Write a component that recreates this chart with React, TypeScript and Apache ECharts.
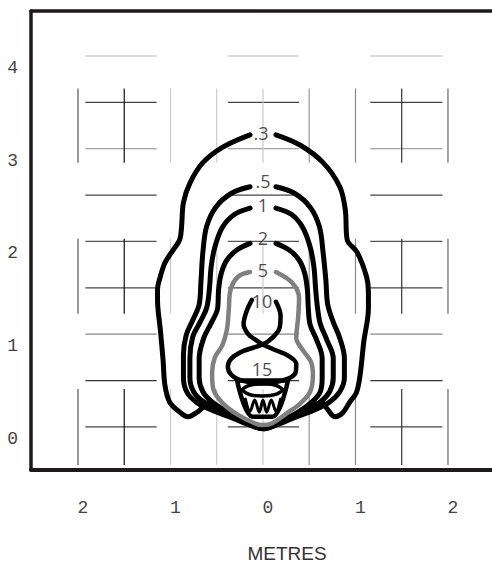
import React, { useEffect, useRef } from "react";
import * as echarts from "echarts";

// ---- tick labels ----
const xTickValues = [-2, -1, 0, 1, 2];
const yTickValues = [0, 1, 2, 3, 4];

// ---- isolux contours (metres) ----
const contour03 = [
  [-0.14, 3.15], [-0.43, 3.02], [-0.65, 2.85], [-0.79, 2.63], [-0.86, 2.42], [-0.88, 2.16],
  [-0.9, 2.02], [-0.97, 1.91], [-1.06, 1.77], [-1.11, 1.62], [-1.14, 1.48], [-1.14, 1.37],
  [-1.11, 1.05], [-1.08, 0.72], [-1.06, 0.45], [-1.01, 0.27], [-0.9, 0.16], [-0.81, 0.11],
  [-0.71, 0.16], [-0.61, 0.23], [-0.44, 0.18], [-0.25, 0.09], [0, -0.02],
  [0.25, 0.08], [0.45, 0.18], [0.64, 0.26], [0.69, 0.2], [0.78, 0.11], [0.86, 0.15],
  [0.94, 0.27], [1.01, 0.37], [1.05, 0.56], [1.09, 0.92], [1.14, 1.28], [1.14, 1.45],
  [1.12, 1.62], [1.02, 1.88], [0.91, 2.02], [0.89, 2.34], [0.83, 2.59], [0.65, 2.85],
  [0.4, 3.04], [0.14, 3.15],
];
const contour05 = [
  [-0.14, 2.59], [-0.34, 2.52], [-0.51, 2.37], [-0.61, 2.16], [-0.65, 1.88], [-0.67, 1.58],
  [-0.69, 1.32], [-0.76, 1.15], [-0.83, 0.99], [-0.86, 0.78], [-0.86, 0.53], [-0.82, 0.37],
  [-0.71, 0.26], [-0.55, 0.18], [-0.34, 0.1], [-0.14, 0.02], [0, -0.02],
  [0.14, 0.02], [0.34, 0.1], [0.55, 0.18], [0.72, 0.27], [0.83, 0.38], [0.88, 0.53],
  [0.88, 0.74], [0.83, 0.96], [0.76, 1.13], [0.7, 1.32], [0.68, 1.58], [0.65, 1.88],
  [0.61, 2.16], [0.51, 2.37], [0.34, 2.52], [0.14, 2.59],
];
const contour1 = [
  [-0.14, 2.36], [-0.31, 2.29], [-0.44, 2.15], [-0.52, 1.94], [-0.56, 1.73], [-0.58, 1.48],
  [-0.61, 1.28], [-0.68, 1.13], [-0.76, 0.97], [-0.79, 0.74], [-0.79, 0.53], [-0.75, 0.38],
  [-0.64, 0.27], [-0.46, 0.18], [-0.25, 0.09], [0, -0.01],
  [0.25, 0.09], [0.46, 0.18], [0.62, 0.27], [0.72, 0.38], [0.76, 0.53], [0.76, 0.74],
  [0.69, 0.94], [0.62, 1.11], [0.59, 1.28], [0.57, 1.48], [0.55, 1.73], [0.51, 1.94],
  [0.43, 2.15], [0.31, 2.29], [0.14, 2.36],
];
const contour2 = [
  [-0.14, 1.98], [-0.28, 1.91], [-0.39, 1.8], [-0.45, 1.66], [-0.48, 1.48], [-0.49, 1.28],
  [-0.56, 1.12], [-0.64, 0.96], [-0.69, 0.74], [-0.69, 0.53], [-0.65, 0.38], [-0.55, 0.27],
  [-0.38, 0.16], [-0.18, 0.06], [0, -0.01],
  [0.18, 0.06], [0.38, 0.16], [0.53, 0.27], [0.62, 0.38], [0.64, 0.53], [0.64, 0.74],
  [0.58, 0.94], [0.51, 1.1], [0.49, 1.28], [0.48, 1.48], [0.45, 1.66], [0.39, 1.8],
  [0.28, 1.91], [0.14, 1.98],
];
const contour5 = [
  [-0.14, 1.67], [-0.27, 1.62], [-0.35, 1.48], [-0.37, 1.26], [-0.39, 1.05], [-0.44, 0.88],
  [-0.52, 0.75], [-0.55, 0.59], [-0.54, 0.42], [-0.44, 0.26], [-0.27, 0.13], [-0.09, 0.04],
  [0, 0.02], [0.1, 0.04], [0.26, 0.15], [0.4, 0.25], [0.51, 0.38], [0.54, 0.56], [0.52, 0.7],
  [0.43, 0.83], [0.36, 0.96], [0.38, 1.18], [0.39, 1.39], [0.32, 1.55], [0.14, 1.67],
];
const contour10 = [
  [-0.12, 1.37], [-0.18, 1.24], [-0.21, 1.11], [-0.16, 1.0], [-0.08, 0.94], [0, 0.89],
  [0.13, 0.83], [0.27, 0.77], [0.36, 0.68], [0.35, 0.58], [0.24, 0.51], [0, 0.47],
  [-0.23, 0.5], [-0.34, 0.56], [-0.38, 0.65], [-0.34, 0.74], [-0.21, 0.82], [0, 0.89],
  [0.1, 0.96], [0.18, 1.07], [0.19, 1.2], [0.14, 1.35],
];
const contour15Cup = [
  [-0.28, 0.5], [0.27, 0.5], [0.1, 0.11], [-0.11, 0.11], [-0.28, 0.5],
];
const contour15Ellipse = [
  [-0.23, 0.4], [-0.17, 0.44], [-0.09, 0.46], [0, 0.465], [0.09, 0.46], [0.16, 0.44],
  [0.21, 0.4], [0.16, 0.36], [0.08, 0.34], [-0.01, 0.335], [-0.1, 0.34], [-0.17, 0.36],
  [-0.23, 0.4],
];
const contourTeeth = [
  [-0.19, 0.3], [-0.14, 0.17], [-0.09, 0.29], [-0.04, 0.16], [0, 0.29], [0.04, 0.16],
  [0.09, 0.29], [0.14, 0.17], [0.19, 0.3],
];

const contourLabelNames = [".3", ".5", "1", "2", "5", "10", "15"];
const contourLabelX = [-0.02, 0, 0, 0, 0, -0.01, -0.01];
const contourLabelY = [3.17, 2.65, 2.39, 2.04, 1.69, 1.36, 0.63];

// ---- background layout grid (segments) ----
const rowY = [0, 0.5, 1, 1.5, 2, 2.5, 3, 3.5, 4];
const rowColors = ["#444", "#333", "#888", "#444", "#555", "#444", "#888", "#444", "#bbb"];
const rowXRanges = [[-1.92, -1.15], [-0.38, 0.39], [1.16, 1.94]];
const colX = [-2, -1.5, -1, -0.5, 0, 0.5, 1, 1.5, 2];
const colColors = ["#555", "#111", "#ccc", "#ccc", "#ccc", "#999", "#888", "#333", "#666"];
const colYRanges = [[2.85, 3.65], [1.22, 2.03], [-0.41, 0.41]];

const X_MIN = -2.508;
const X_MAX = 2.476;
const Y_MIN = -0.464;
const Y_MAX = 4.485;

export default function App() {
  const ref = useRef<HTMLDivElement>(null);

  useEffect(() => {
    document.body.style.margin = "0";
    if (!ref.current) return;
    const chart = echarts.init(ref.current, undefined, { renderer: "svg" });

    const segs: number[][] = [];
    const segColors: string[] = [];
    rowY.forEach((y, i) => {
      rowXRanges.forEach((r) => {
        segs.push([r[0], y, r[1], y]);
        segColors.push(rowColors[i]);
      });
    });
    colX.forEach((x, i) => {
      colYRanges.forEach((r) => {
        segs.push([x, r[0], x, r[1]]);
        segColors.push(colColors[i]);
      });
    });

    const contours = [
      { data: contour03, color: "#000", width: 5 },
      { data: contour05, color: "#000", width: 5 },
      { data: contour1, color: "#000", width: 5 },
      { data: contour2, color: "#000", width: 5 },
      { data: contour5, color: "#808080", width: 4.5 },
      { data: contour10, color: "#000", width: 4.5 },
      { data: contour15Cup, color: "#000", width: 4.5 },
      { data: contour15Ellipse, color: "#000", width: 3.5 },
      { data: contourTeeth, color: "#000", width: 3 },
    ];

    const tickFont = {
      fontFamily: "Liberation Mono",
      fontSize: 18,
      color: "#444",
    };

    const option: any = {
      animation: false,
      backgroundColor: "#fff",
      grid: { left: 31, top: 11, right: 0, bottom: 93, containLabel: false },
      xAxis: [
        {
          type: "value",
          min: X_MIN,
          max: X_MAX,
          position: "bottom",
          axisLine: { show: true, onZero: false, lineStyle: { color: "#1e1a1b", width: 4 } },
          axisTick: { show: false },
          splitLine: { show: false },
          axisLabel: {
            ...tickFont,
            customValues: xTickValues,
            margin: 29,
            padding: [0, 0, 0, 10],
            formatter: (v: number) => String(Math.abs(Math.round(v))),
          },
        },
        {
          type: "value",
          min: X_MIN,
          max: X_MAX,
          position: "top",
          axisLine: { show: true, onZero: false, lineStyle: { color: "#1e1a1b", width: 3.5 } },
          axisTick: { show: false },
          splitLine: { show: false },
          axisLabel: { show: false },
        },
      ],
      yAxis: {
        type: "value",
        min: Y_MIN,
        max: Y_MAX,
        axisLine: { show: true, onZero: false, lineStyle: { color: "#1e1a1b", width: 3.5 } },
        axisTick: { show: false },
        splitLine: { show: false },
        axisLabel: {
          ...tickFont,
          customValues: yTickValues,
          margin: 13,
          verticalAlign: "top",
          lineHeight: 24,
          formatter: (v: number) => String(Math.round(v)),
        },
      },
      graphic: [
        {
          type: "text",
          x: 287,
          y: 553,
          style: {
            text: "METRES",
            fontFamily: "Liberation Sans",
            fontSize: 19,
            fill: "#333",
            align: "center",
            verticalAlign: "middle",
          },
        },
      ],
      series: [
        {
          type: "custom",
          z: 1,
          silent: true,
          encode: { x: [0, 2], y: [1, 3] },
          data: segs,
          renderItem: (params: any, api: any) => {
            const p1 = api.coord([api.value(0), api.value(1)]);
            const p2 = api.coord([api.value(2), api.value(3)]);
            return {
              type: "line",
              shape: { x1: p1[0], y1: p1[1], x2: p2[0], y2: p2[1] },
              style: { stroke: segColors[params.dataIndex], lineWidth: 1.2 },
            };
          },
        },
        ...contours.map((c) => ({
          type: "line",
          z: 3,
          data: c.data,
          smooth: 0.35,
          showSymbol: false,
          symbol: "none",
          silent: true,
          lineStyle: { color: c.color, width: c.width, cap: "round", join: "round" },
        })),
        {
          type: "scatter",
          z: 4,
          symbolSize: 0,
          silent: true,
          data: contourLabelNames.map((n, i) => ({
            name: n,
            value: [contourLabelX[i], contourLabelY[i]],
          })),
          label: {
            show: true,
            position: "inside",
            formatter: "{b}",
            fontFamily: "Open Sans",
            fontSize: 18,
            lineHeight: 18,
            color: "#1a1a1a",
          },
        },
      ],
    };

    chart.setOption(option);
    return () => chart.dispose();
  }, []);

  return <div ref={ref} style={{ width: 492, height: 563 }} />;
}
